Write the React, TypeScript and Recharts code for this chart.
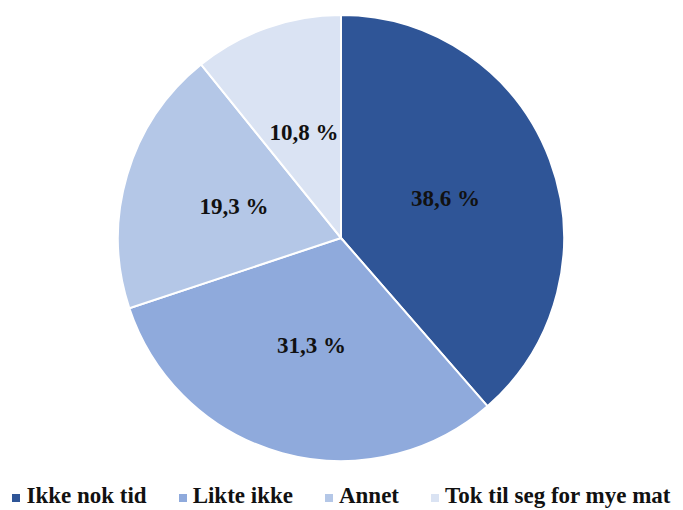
import React from 'react';
import {Cell, Legend, Pie, PieChart} from 'recharts';

const categories = ['Ikke nok tid', 'Likte ikke', 'Annet', 'Tok til seg for mye mat'];
const shares = [38.6, 31.3, 19.3, 10.8];
const colors = ['#2F5597', '#8FAADC', '#B4C7E7', '#DAE3F3'];

const data = categories.map((name, i) => ({name, value: shares[i]}));

const RADIAN = Math.PI / 180;

const renderLabel = (props: any) => {
    const {cx, cy, midAngle, outerRadius, value} = props;
    const r = outerRadius * 0.5;
    const x = cx + r * Math.cos(-midAngle * RADIAN);
    const y = cy + r * Math.sin(-midAngle * RADIAN);
    return (
        <text x={x} y={y} fill="#111" textAnchor="middle" dominantBaseline="central"
              fontFamily="'Liberation Serif', serif" fontWeight="bold" fontSize={23}>
            {value.toFixed(1).replace('.', ',')} %
        </text>
    );
};

const renderLegend = () => (
    <div style={{display: 'flex', justifyContent: 'center', alignItems: 'center',
        fontFamily: "'Liberation Serif', serif", fontWeight: 'bold', fontSize: 23, color: '#111'}}>
        {categories.map((name, i) => (
            <div key={name} style={{display: 'flex', alignItems: 'center', marginRight: i < categories.length - 1 ? 32 : 0}}>
                <span style={{display: 'inline-block', width: 8, height: 8, background: colors[i], marginRight: 6, marginTop: 4}}/>
                <span>{name}</span>
            </div>
        ))}
    </div>
);

const App = () => {
    return (
        <div style={{position: 'absolute', left: 0, top: 0}}>
            <PieChart width={683} height={510} margin={{top: 0, right: 0, bottom: 0, left: 0}}>
                <Pie
                    data={data}
                    dataKey="value"
                    cx={341}
                    cy={238}
                    outerRadius={223}
                    startAngle={90}
                    endAngle={-270}
                    stroke="#fff"
                    strokeWidth={2}
                    label={renderLabel}
                    labelLine={false}
                    isAnimationActive={false}
                >
                    {data.map((d, i) => <Cell key={d.name} fill={colors[i]}/>)}
                </Pie>
                <Legend content={renderLegend} wrapperStyle={{left: 0, top: 483, width: 683}}/>
            </PieChart>
        </div>
    );
};

export default App;
